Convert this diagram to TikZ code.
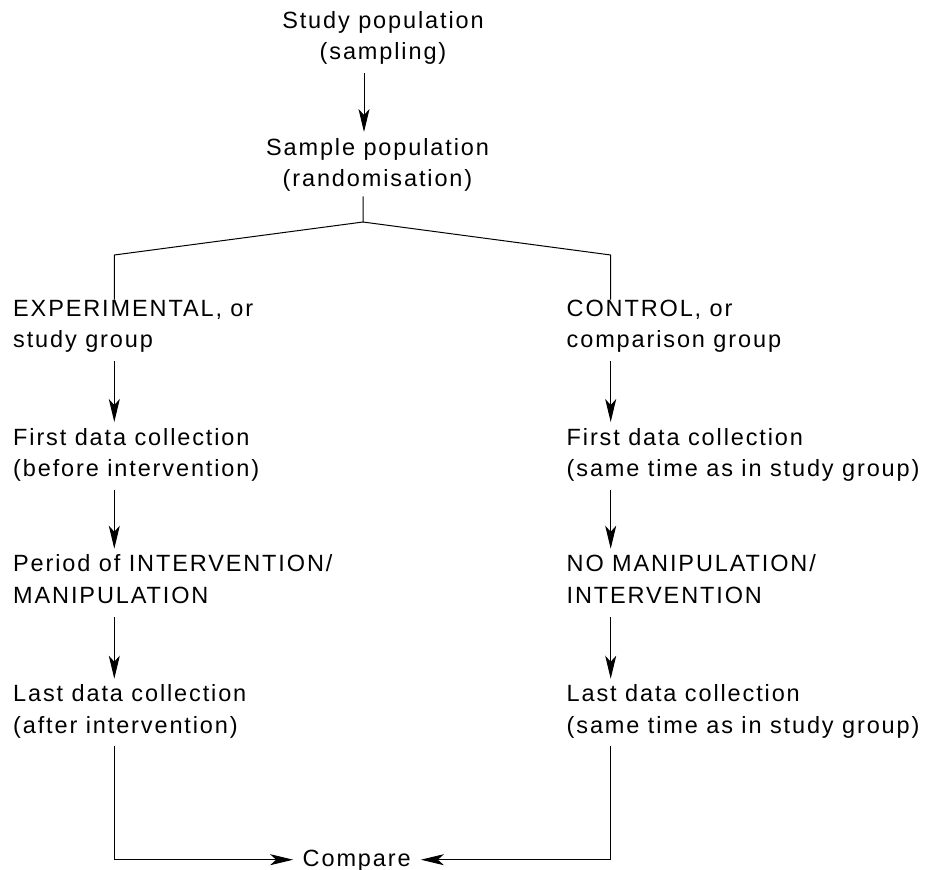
\documentclass[tikz,border=0pt]{standalone}
\usepackage{fontspec}
\setmainfont{Liberation Sans}[LetterSpace=8]
\usetikzlibrary{arrows.meta}
\begin{document}
\begin{tikzpicture}[x=1pt,y=-1pt,
  lbl/.style={inner sep=0pt, font=\fontsize{23.5}{31.5}\selectfont,
    execute at begin node=\strut, execute at end node=\strut},
  lft/.style={lbl, align=left, anchor=north west},
  ln/.style={line width=1pt},
  arr/.style={ln, -{Stealth[length=23pt,width=11pt,inset=6pt]},
    shorten <=4pt, shorten >=6pt}]
\useasboundingbox (0,0) rectangle (940,870);
% top
\node[lbl, align=center, anchor=north] (t1) at (383,11) {Study population\\(sampling)};
\node[lbl, align=center, anchor=north] (t2) at (377.5,138) {Sample population\\(randomisation)};
\coordinate (cx) at (364,0);
\coordinate (ap) at (363,222);
\coordinate (bl) at (114.3,255);
\coordinate (br) at (610.7,255);
% left column
\node[lft] (l1) at (13,299.7) {EXPERIMENTAL, or\\study group};
\node[lft] (l2) at (13,428) {First data collection\\(before intervention)};
\node[lft] (l3) at (13,554.7) {Period of INTERVENTION/\\MANIPULATION};
\node[lft] (l4) at (13,684.7) {Last data collection\\(after intervention)};
% right column
\node[lft] (r1) at (566.5,299.7) {CONTROL, or\\comparison group};
\node[lft] (r2) at (566.5,428) {First data collection\\(same time as in study group)};
\node[lft] (r3) at (566.5,554.7) {NO MANIPULATION/\\INTERVENTION};
\node[lft] (r4) at (566.5,684.7) {Last data collection\\(same time as in study group)};
% compare
\node[lbl, anchor=base] (cmp) at (356.7,866) {Compare};
% connectors
\draw[arr] (t1.south -| cx) -- (t2.north -| cx);
\draw[ln] (t2.south -| ap) -- (ap) -- (bl) -- (l1.north -| bl);
\draw[ln] (ap) -- (br) -- (r1.north -| br);
\draw[arr] (l1.south -| bl) -- (l2.north -| bl);
\draw[arr] (l2.south -| bl) -- (l3.north -| bl);
\draw[arr] (l3.south -| bl) -- (l4.north -| bl);
\draw[arr] (r1.south -| br) -- (r2.north -| br);
\draw[arr] (r2.south -| br) -- (r3.north -| br);
\draw[arr] (r3.south -| br) -- (r4.north -| br);
\draw[arr, shorten <=3pt, shorten >=9.4pt] (l4.south -| bl) |- (cmp.west);
\draw[arr, shorten <=3pt, shorten >=10pt] (r4.south -| br) |- (cmp.east);
\end{tikzpicture}
\end{document}
